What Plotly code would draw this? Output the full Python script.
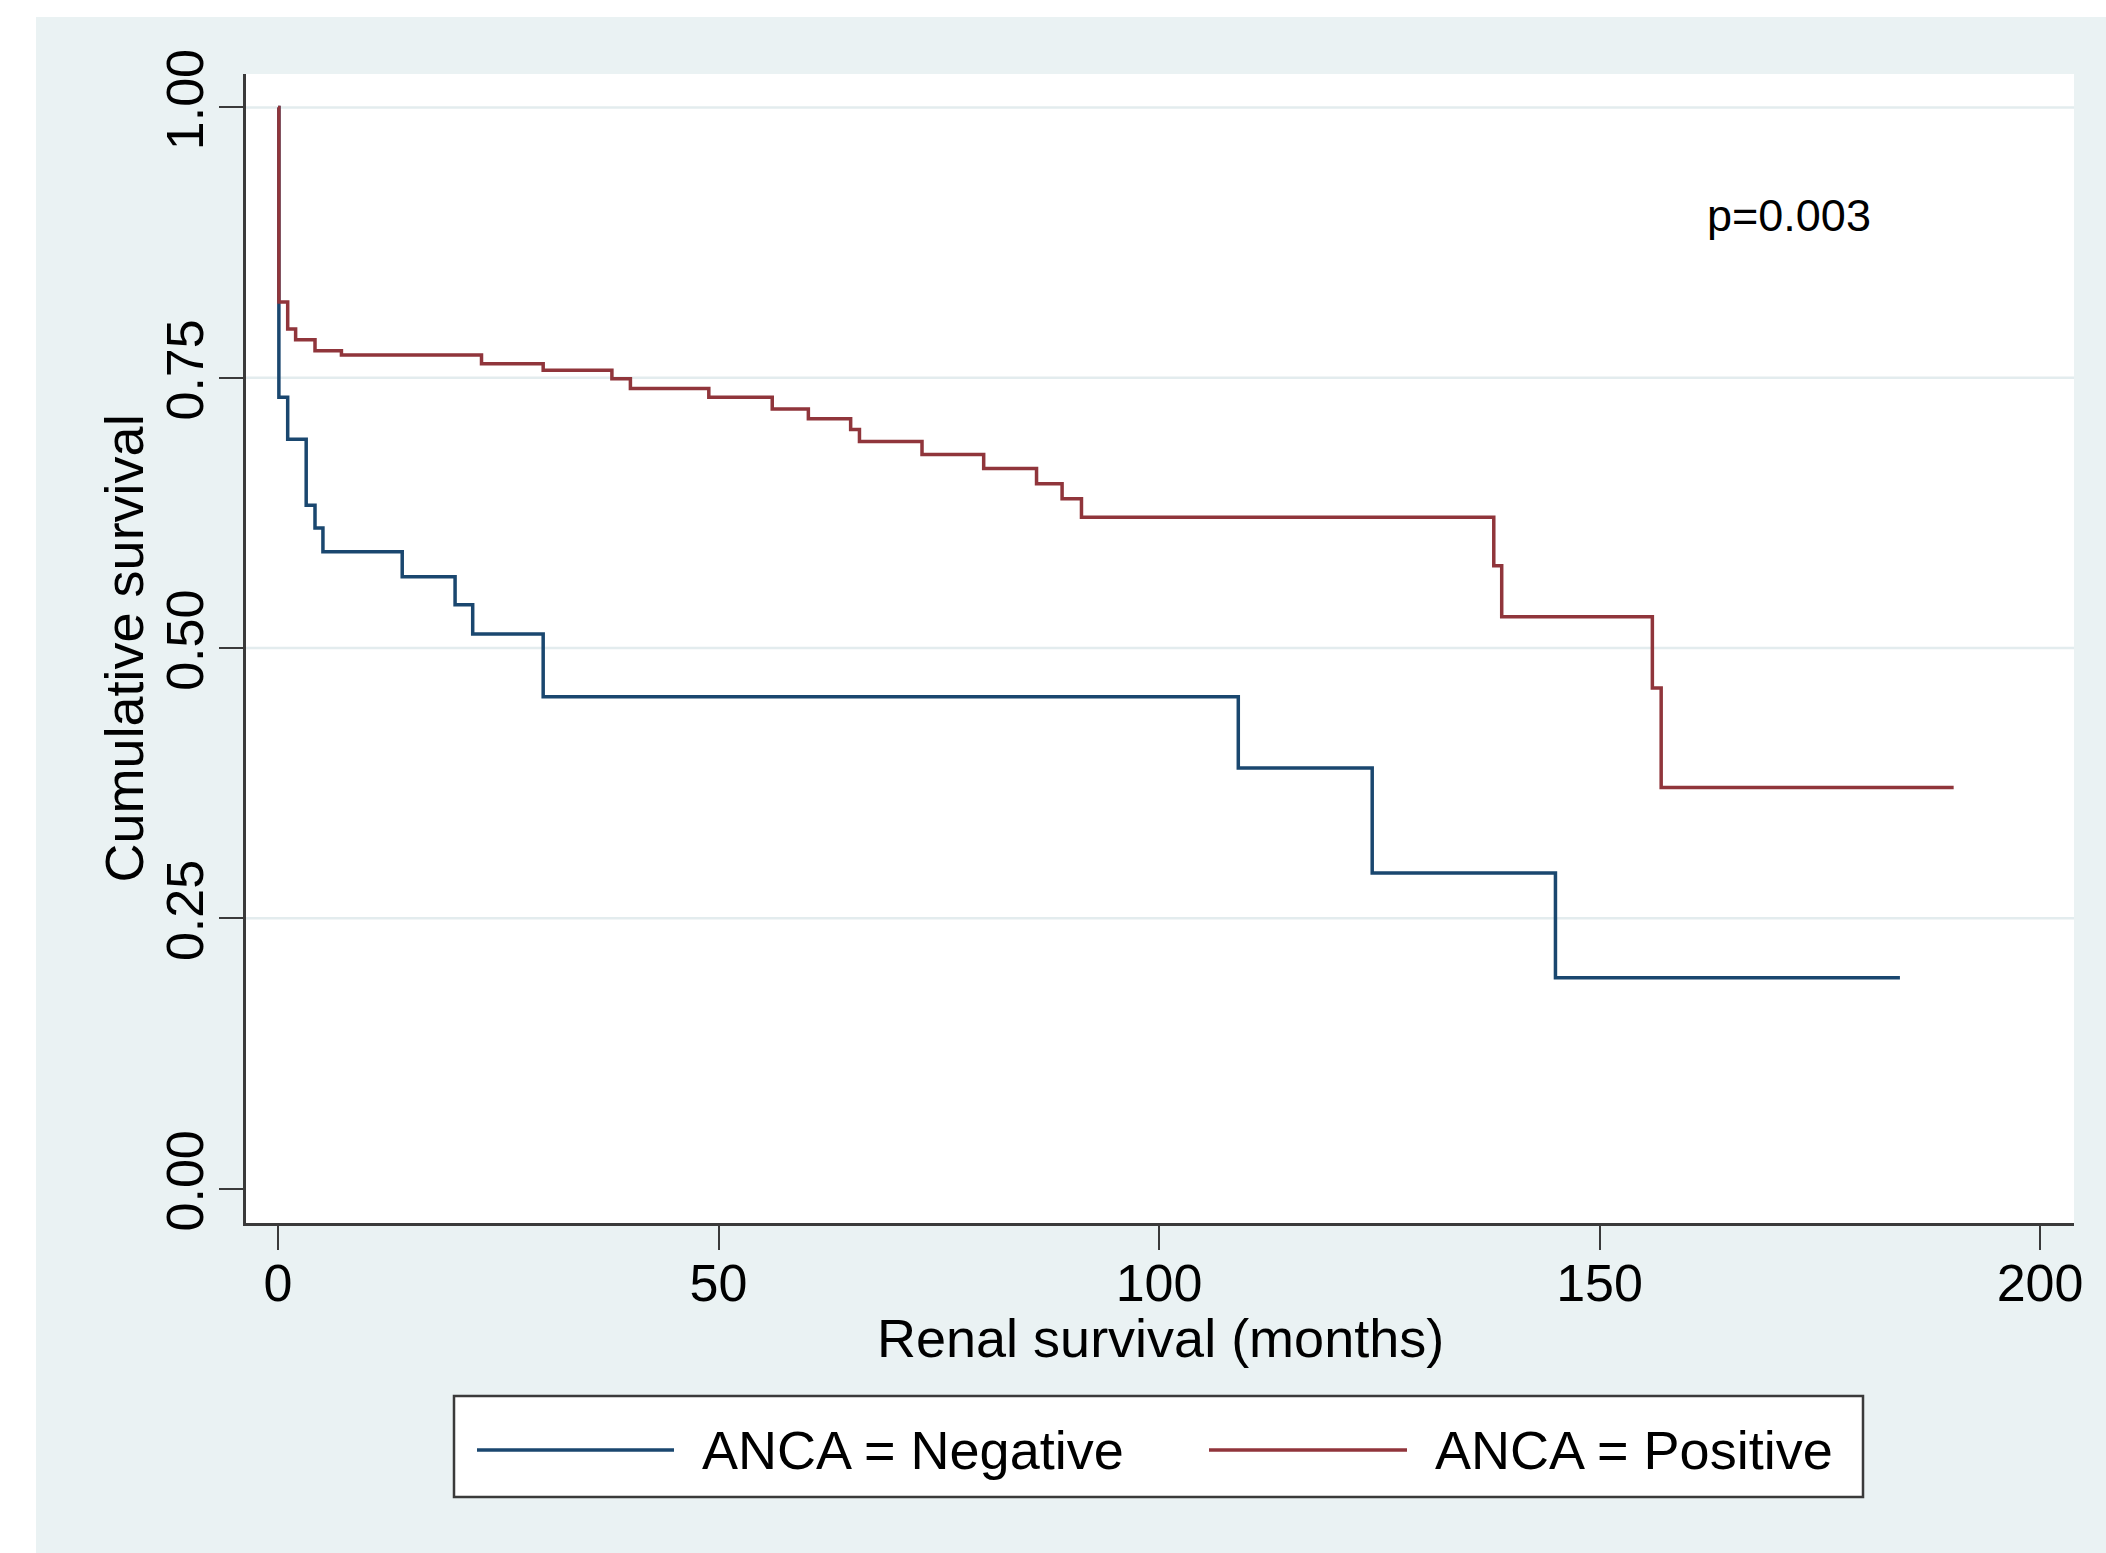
import plotly.graph_objects as go

# ---- data ----
neg_time = [0, 0.1, 1.1, 3.2, 4.2, 5.1, 14.1, 20.1, 22.1, 30.1, 109.0, 124.2, 145.0, 184.1]
neg_surv = [1.0, 0.732, 0.693, 0.632, 0.611, 0.589, 0.566, 0.540, 0.513, 0.455, 0.389, 0.292, 0.195, 0.195]

pos_time = [0, 0.1, 1.1, 2.0, 4.2, 7.2, 23.1, 30.1, 37.9, 40.0, 48.9, 56.1, 60.2, 65.0, 66.0,
            73.1, 80.1, 86.1, 89.0, 91.2, 138.0, 138.9, 156.0, 157.0, 190.2]
pos_surv = [1.0, 0.820, 0.795, 0.785, 0.775, 0.771, 0.763, 0.757, 0.749, 0.740, 0.732, 0.721, 0.712, 0.702, 0.691,
            0.679, 0.666, 0.652, 0.638, 0.621, 0.576, 0.529, 0.463, 0.371, 0.371]

series_names = ["ANCA = Negative", "ANCA = Positive"]
x_ticks = [0, 50, 100, 150, 200]
y_ticks = [0.0, 0.25, 0.5, 0.75, 1.0]
y_tick_text = ["0.00", "0.25", "0.50", "0.75", "1.00"]
x_title = "Renal survival (months)"
y_title = "Cumulative survival"
p_text = "p=0.003"

NAVY = "#1A476F"
MAROON = "#90353B"
PANEL = "#EAF2F3"
GRID = "#E3ECEE"
AXIS = "#3A3A3A"
FONT = "Liberation Sans, Arial, sans-serif"

W, H = 2106, 1553
L, R, T, B = 246, 32, 74, 330
pw = W - L - R
ph = H - T - B


def px(fx):
    return (fx - L) / pw


def py(fy):
    return (H - B - fy) / ph


fig = go.Figure()
fig.add_trace(go.Scatter(x=neg_time, y=neg_surv, mode="lines", line=dict(color=NAVY, width=3.5, shape="hv"),
                         name=series_names[0], showlegend=False))
fig.add_trace(go.Scatter(x=pos_time, y=pos_surv, mode="lines", line=dict(color=MAROON, width=3.5, shape="hv"),
                         name=series_names[1], showlegend=False))

shapes = []
# white strips outside the panel
shapes.append(dict(type="rect", xref="paper", yref="paper", x0=px(-5), x1=px(36), y0=py(1560), y1=py(-5),
                   fillcolor="white", line=dict(width=0), layer="below"))
shapes.append(dict(type="rect", xref="paper", yref="paper", x0=px(-5), x1=px(2115), y0=py(17), y1=py(-5),
                   fillcolor="white", line=dict(width=0), layer="below"))
# grid lines
for v in y_ticks[1:]:
    shapes.append(dict(type="line", xref="paper", yref="y", x0=0, x1=1, y0=v, y1=v,
                       line=dict(color=GRID, width=2.5), layer="below"))
# legend box
shapes.append(dict(type="rect", xref="paper", yref="paper", x0=px(454), x1=px(1863), y0=py(1497), y1=py(1396),
                   fillcolor="white", line=dict(color=AXIS, width=2.5)))
ly = py(1450)
shapes.append(dict(type="line", xref="paper", yref="paper", x0=px(477), x1=px(674), y0=ly, y1=ly,
                   line=dict(color=NAVY, width=3.5)))
shapes.append(dict(type="line", xref="paper", yref="paper", x0=px(1209), x1=px(1407), y0=ly, y1=ly,
                   line=dict(color=MAROON, width=3.5)))

annotations = [
    dict(text=series_names[0], xref="paper", yref="paper", x=px(700), y=ly, xanchor="left", yanchor="middle",
         showarrow=False, font=dict(family=FONT, size=54, color="black")),
    dict(text=series_names[1], xref="paper", yref="paper", x=px(1433), y=ly, xanchor="left", yanchor="middle",
         showarrow=False, font=dict(family=FONT, size=54, color="black")),
    dict(text=p_text, xref="x", yref="y", x=171.5, y=0.9, xanchor="center", yanchor="middle",
         showarrow=False, font=dict(family=FONT, size=45, color="black")),
    dict(text=x_title, xref="paper", yref="paper", x=0.5, y=py(1338), xanchor="center", yanchor="middle",
         showarrow=False, font=dict(family=FONT, size=54, color="black")),
    dict(text=y_title, xref="paper", yref="paper", x=px(123), y=0.5, xanchor="center", yanchor="middle",
         textangle=-90, showarrow=False, font=dict(family=FONT, size=54, color="black")),
]

fig.update_layout(
    width=W, height=H,
    margin=dict(l=L, r=R, t=T, b=B, pad=0),
    paper_bgcolor=PANEL, plot_bgcolor="white",
    font=dict(family=FONT, color="black"),
    shapes=shapes, annotations=annotations,
    showlegend=False,
)
fig.update_xaxes(
    range=[(L - 278) / 8.81, (W - R - 278) / 8.81],
    tickvals=x_ticks, ticktext=[str(v) for v in x_ticks],
    showgrid=False, zeroline=False,
    showline=True, linecolor=AXIS, linewidth=2.5,
    ticks="outside", ticklen=24, tickwidth=2, tickcolor=AXIS,
    ticklabelstandoff=-11,
    tickfont=dict(family=FONT, size=52, color="black"),
    automargin=False,
)
fig.update_yaxes(
    range=[(1188.6 - (H - B)) / 1081.2, (1188.6 - T) / 1081.2],
    tickvals=y_ticks, ticktext=y_tick_text, tickangle=-90,
    showgrid=False, zeroline=False,
    showline=True, linecolor=AXIS, linewidth=2.5,
    ticks="outside", ticklen=24, tickwidth=2, tickcolor=AXIS,
    ticklabelstandoff=-5,
    tickfont=dict(family=FONT, size=52, color="black"),
    automargin=False,
)

fig.write_html("out.html", config={"displayModeBar": False},
               post_script="document.body.style.margin='0';document.body.style.overflow='hidden';")
